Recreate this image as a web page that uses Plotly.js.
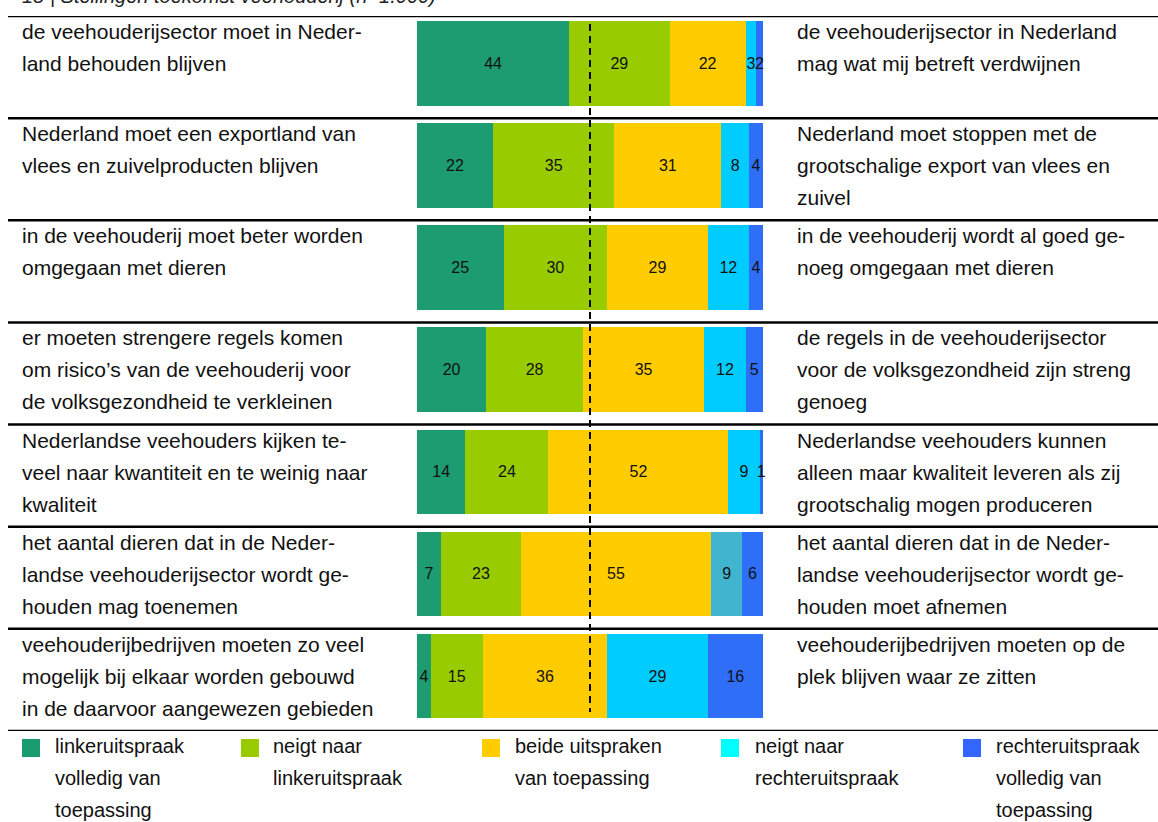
<!DOCTYPE html>
<html>
<head>
<meta charset="utf-8">
<script src="https://cdn.plot.ly/plotly-3.0.1.min.js"></script>
<style>
html,body{margin:0;padding:0;background:#fff;}
#chart{width:1158px;height:822px;}
</style>
</head>
<body>
<div id="chart"></div>
<script>
// ---- data ----
const chartTitle = "18 | Stellingen toekomst veehouderij (n=1.000)";
const leftStatements = [
  "de veehouderijsector moet in Neder-\nland behouden blijven",
  "Nederland moet een exportland van\nvlees en zuivelproducten blijven",
  "in de veehouderij moet beter worden\nomgegaan met dieren",
  "er moeten strengere regels komen\nom risico’s van de veehouderij voor\nde volksgezondheid te verkleinen",
  "Nederlandse veehouders kijken te-\nveel naar kwantiteit en te weinig naar\nkwaliteit",
  "het aantal dieren dat in de Neder-\nlandse veehouderijsector wordt ge-\nhouden mag toenemen",
  "veehouderijbedrijven moeten zo veel\nmogelijk bij elkaar worden gebouwd\nin de daarvoor aangewezen gebieden"
];
const rightStatements = [
  "de veehouderijsector in Nederland\nmag wat mij betreft verdwijnen",
  "Nederland moet stoppen met de\ngrootschalige export van vlees en\nzuivel",
  "in de veehouderij wordt al goed ge-\nnoeg omgegaan met dieren",
  "de regels in de veehouderijsector\nvoor de volksgezondheid zijn streng\ngenoeg",
  "Nederlandse veehouders kunnen\nalleen maar kwaliteit leveren als zij\ngrootschalig mogen produceren",
  "het aantal dieren dat in de Neder-\nlandse veehouderijsector wordt ge-\nhouden moet afnemen",
  "veehouderijbedrijven moeten op de\nplek blijven waar ze zitten"
];
const linksVolledig   = [44, 22, 25, 20, 14, 7, 4];
const neigtLinks      = [29, 35, 30, 28, 24, 23, 15];
const beide           = [22, 31, 29, 35, 52, 55, 36];
const neigtRechts     = [3, 8, 12, 12, 9, 9, 29];
const rechtsVolledig  = [2, 4, 4, 5, 1, 6, 16];
const legendLabels = [
  "linkeruitspraak\nvolledig van\ntoepassing",
  "neigt naar\nlinkeruitspraak",
  "beide uitspraken\nvan toepassing",
  "neigt naar\nrechteruitspraak",
  "rechteruitspraak\nvolledig van\ntoepassing"
];
const midpoint = 50;

// ---- styling ----
const W = 1158, H = 822;
const FONT = '"Liberation Sans", Arial, Helvetica, sans-serif';
const barColors = ['#1C9C70', '#99CC00', '#FFCC00', '#00CCFF', '#2F6FF8'];
const legendColors = ['#1B9C6F', '#99CC00', '#FFCC00', '#00FFFF', '#3366FF'];
const rowPx = 102.14, topPx = 16;
const series = [linksVolledig, neigtLinks, beide, neigtRechts, rechtsVolledig];
const rows = leftStatements.map((_, i) => i);

const traces = series.map((vals, k) => {
  let col = barColors[k];
  if (k === 3) col = rows.map(i => i === 5 ? '#41B5CF' : barColors[3]);
  return {
    type: 'bar', orientation: 'h',
    x: vals, y: rows,
    name: legendLabels[k].replace(/\n/g, ' '),
    width: 84.5 / rowPx, offset: -0.5 + 5 / rowPx,
    marker: {color: col, line: {width: 0}},
    text: vals.map(String), textposition: 'inside', insidetextanchor: 'middle',
    textangle: 0, constraintext: 'none',
    textfont: {family: FONT, size: 16, color: '#111'},
    hoverinfo: 'skip', cliponaxis: false
  };
});

const annotations = [];
const shapes = [];
const textSize = 21, lineH = 32;
function addLines(str, xPaper, yData, firstShift) {
  str.split('\n').forEach((ln, j) => {
    annotations.push({
      text: ln, xref: 'paper', yref: 'y', x: xPaper, y: yData,
      xanchor: 'left', yanchor: 'middle', yshift: -(firstShift + j * lineH),
      showarrow: false, font: {family: FONT, size: textSize, color: '#111'}
    });
  });
}
rows.forEach(i => {
  addLines(leftStatements[i], 20 / W, i - 0.5, 15.5);
  addLines(rightStatements[i], 795 / W, i - 0.5, 15.5);
});
// separators
for (let k = 0; k <= rows.length; k++) {
  shapes.push({type: 'line', xref: 'paper', yref: 'y', x0: 8 / W, x1: 1, y0: k - 0.5, y1: k - 0.5,
    line: {color: '#000', width: 2.5}});
}
// midpoint dashed line
shapes.push({type: 'line', xref: 'x', yref: 'y', x0: midpoint, x1: midpoint,
  y0: -0.5 + (24 - topPx) / rowPx, y1: -0.5 + (712 - topPx) / rowPx,
  line: {color: '#000', width: 2, dash: '7px,5px'}});

// legend (manual)
const legSqX = [22, 241, 482, 721, 963];
const legTxX = [53, 271, 513, 753, 994];
legendLabels.forEach((lab, k) => {
  shapes.push({type: 'rect', xref: 'paper', yref: 'paper',
    x0: legSqX[k] / W, x1: (legSqX[k] + 18) / W,
    y0: 1 - 757 / H, y1: 1 - 739 / H,
    fillcolor: legendColors[k], line: {width: 0}});
  lab.split('\n').forEach((ln, j) => {
    annotations.push({text: ln, xref: 'paper', yref: 'paper', x: (legTxX[k]) / W,
      y: 1 - (746 + j * lineH) / H, xanchor: 'left', yanchor: 'middle', showarrow: false,
      font: {family: FONT, size: 20, color: '#111'}});
  });
});
// title (clipped at top like the reference)
annotations.push({text: '<i>' + chartTitle + '</i>', xref: 'paper', yref: 'paper', x: 20 / W, y: 1 + 4 / H,
  xanchor: 'left', yanchor: 'middle', showarrow: false,
  font: {family: FONT, size: 20, color: '#222'}});

const nRows = rows.length;
const layout = {
  width: W, height: H,
  margin: {l: 0, r: 0, t: 0, b: 0, pad: 0},
  paper_bgcolor: '#fff', plot_bgcolor: 'rgba(0,0,0,0)',
  barmode: 'stack', showlegend: false,
  xaxis: {domain: [417 / W, 763 / W], range: [0, 100], visible: false, fixedrange: true},
  yaxis: {domain: [1 - (topPx + nRows * rowPx) / H, 1 - topPx / H], range: [nRows - 0.5, -0.5],
    visible: false, fixedrange: true},
  shapes: shapes, annotations: annotations,
  font: {family: FONT}
};
Plotly.newPlot('chart', traces, layout, {displayModeBar: false, staticPlot: true});
</script>
</body>
</html>
